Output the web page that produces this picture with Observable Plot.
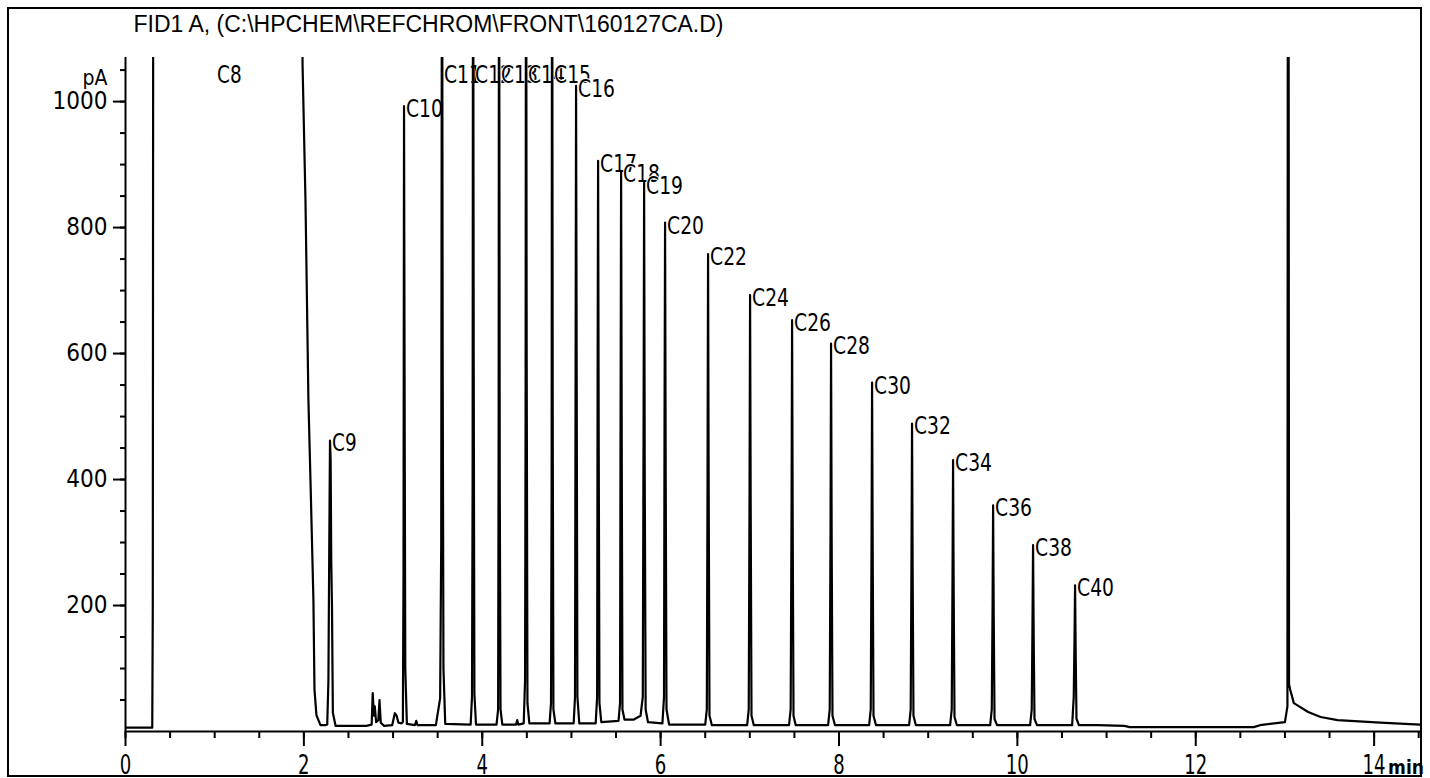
<!DOCTYPE html>
<html><head><meta charset="utf-8">
<script src="https://cdn.jsdelivr.net/npm/d3@7"></script>
<script src="https://cdn.jsdelivr.net/npm/@observablehq/plot@0.6"></script>
<style>
html,body{margin:0;padding:0;background:#fff;}
#wrap{position:relative;width:1430px;height:778px;overflow:hidden;}
#border{position:absolute;left:7px;top:7px;width:1415px;height:770px;box-sizing:border-box;border:2px solid #000;pointer-events:none;}
</style></head><body><div id="wrap"><div id="border"></div></div>
<script>
// ---- data ----
const title = "FID1 A, (C:\\HPCHEM\\REFCHROM\\FRONT\\160127CA.D)";
const yUnit = "pA";
const xUnit = "min";
const xTicks = [0, 2, 4, 6, 8, 10, 12, 14];
const yTicks = [200, 400, 600, 800, 1000];
const unitTick = 1050;
const labelTop = 1047;

const peakNames = ["C8","C9","C10","C11","C12","C13","C14","C15","C16","C17","C18","C19","C20","C22","C24","C26","C28","C30","C32","C34","C36","C38","C40"];
const peakTimes = [1.004, 2.293, 3.123, 3.549, 3.897, 4.188, 4.491, 4.783, 5.052, 5.299, 5.557, 5.815, 6.050, 6.532, 7.003, 7.474, 7.911, 8.371, 8.819, 9.279, 9.728, 10.176, 10.647];
const peakHeights = [1500, 462, 993, 1500, 1500, 1500, 1500, 1500, 1025, 906, 890, 871, 808, 758, 693, 653, 616, 554, 489, 431, 359, 296, 232];

// detector trace [time (min), signal (pA)]
const trace = [
 [0.000,6],[0.150,6],[0.300,6],[0.306,200],[0.312,1500],
 [1.975,1500],[1.985,1060],[2.018,843],[2.051,526],[2.074,399],[2.107,209],[2.119,66],[2.141,26],[2.186,10],[2.240,10],
 [2.262,11],[2.275,80],[2.285,300],[2.293,462],[2.300,430],[2.307,270],[2.315,200],[2.325,30],[2.355,9],
 [2.700,9],[2.760,11],[2.772,61],[2.785,25],[2.795,40],[2.810,15],[2.835,18],[2.848,50],[2.862,14],[2.900,9],
 [2.990,10],[3.020,29],[3.040,25],[3.060,14],[3.095,13],
 [3.110,15],[3.117,250],[3.123,993],[3.130,500],[3.137,100],[3.155,12],
 [3.245,10],[3.260,17],[3.275,10],
 [3.480,10],[3.528,53],[3.540,300],[3.549,1500],[3.556,600],[3.565,100],[3.585,12],
 [3.870,11],[3.885,55],[3.892,400],[3.897,1500],[3.904,600],[3.912,60],[3.930,11],
 [4.160,11],[4.178,35],[4.184,500],[4.188,1500],[4.196,400],[4.205,35],[4.225,11],
 [4.380,11],[4.392,18],[4.405,11],
 [4.465,13],[4.480,81],[4.486,500],[4.491,1500],[4.498,600],[4.507,45],[4.528,13],
 [4.755,13],[4.771,45],[4.778,400],[4.783,1500],[4.790,500],[4.798,35],[4.820,13],
 [5.025,13],[5.040,55],[5.047,600],[5.052,1025],[5.059,550],[5.067,55],[5.088,13],
 [5.272,13],[5.288,55],[5.294,600],[5.299,906],[5.306,450],[5.314,45],[5.335,15],
 [5.528,17],[5.545,45],[5.551,500],[5.557,890],[5.564,450],[5.572,35],[5.595,19],
 [5.700,19],[5.775,25],[5.800,55],[5.809,500],[5.815,871],[5.822,400],[5.832,35],[5.858,15],
 [6.020,13],[6.038,55],[6.044,500],[6.050,808],[6.057,400],[6.066,35],[6.095,11],
 [6.500,11],[6.518,35],[6.526,400],[6.532,758],[6.539,380],[6.548,25],[6.575,10],
 [6.970,10],[6.988,35],[6.997,380],[7.003,693],[7.010,350],[7.019,25],[7.045,10],
 [7.440,10],[7.458,35],[7.468,350],[7.474,653],[7.481,320],[7.490,25],[7.515,10],
 [7.878,10],[7.896,35],[7.905,320],[7.911,616],[7.918,300],[7.927,25],[7.955,10],
 [8.338,10],[8.356,35],[8.365,300],[8.371,554],[8.378,280],[8.387,25],[8.415,10],
 [8.786,10],[8.804,35],[8.813,280],[8.819,489],[8.826,250],[8.835,25],[8.862,10],
 [9.246,10],[9.264,35],[9.273,250],[9.279,431],[9.286,220],[9.295,23],[9.322,10],
 [9.695,10],[9.713,35],[9.722,200],[9.728,359],[9.735,180],[9.744,20],[9.772,10],
 [10.143,10],[10.161,35],[10.170,180],[10.176,296],[10.183,150],[10.192,20],[10.220,10],
 [10.614,10],[10.632,55],[10.641,150],[10.647,232],[10.654,120],[10.663,20],[10.690,10],
 [10.900,10],[11.200,9],[11.260,7],[12.000,7],[12.650,7],[12.720,10],[12.950,14],[13.000,15],[13.028,40],
 [13.033,1500],[13.040,1500],[13.046,75],[13.060,66],[13.100,45],[13.260,31],[13.400,23],[13.590,18],[14.070,14],[14.520,11]
];

const peaks = peakNames.map((name, i) => ({name, t: peakTimes[i], h: peakHeights[i]}));
const xMinor = d3.range(0, 14.51, 0.5);
const yMinor = d3.range(50, 1051, 50);

const NARROW = "'Liberation Sans Narrow','Arial Narrow','DejaVu Sans Condensed',sans-serif";

const chart = Plot.plot({
  width: 1430, height: 778,
  marginLeft: 125, marginRight: 10, marginTop: 57, marginBottom: 47,
  style: {background: "transparent", color: "black", fontFamily: NARROW},
  x: {domain: [0, 14.52]},
  y: {domain: [0, 1070]},
  marks: [
    Plot.axisY({ticks: yMinor, tickSize: 5, strokeWidth: 2, tickFormat: () => "", label: null}),
    Plot.axisY({ticks: yTicks, tickSize: 12, tickPadding: 6, strokeWidth: 2, fontSize: 24, tickFormat: d => String(d), label: null}),
    Plot.axisX({ticks: xMinor, tickSize: 7, strokeWidth: 2, tickFormat: () => "", label: null}),
    Plot.axisX({ticks: xTicks, tickSize: 15, strokeWidth: 2, tickFormat: () => "", label: null}),
    Plot.text(xTicks, {x: d => d, frameAnchor: "bottom", text: d => String(d), textAnchor: "middle",
      lineAnchor: "bottom", dy: 42, fontSize: 27}),
    Plot.ruleX([0], {strokeWidth: 2}),
    Plot.ruleY([0], {strokeWidth: 2}),
    Plot.text(peaks, {x: "t", y: d => Math.min(d.h, labelTop), text: "name", textAnchor: "start",
      dx: 2, dy: 3, fontSize: 25, fill: "black", stroke: "white", strokeWidth: 2}),
    Plot.line(trace, {x: d => d[0], y: d => d[1], stroke: "black", strokeWidth: 2.2, clip: true}),
    Plot.text([yUnit], {y: () => unitTick, frameAnchor: "left", text: d => d, textAnchor: "end",
      dx: -18, dy: 8, fontSize: 21}),
    Plot.text([xUnit], {x: () => xTicks[xTicks.length - 1], frameAnchor: "bottom", text: d => d,
      textAnchor: "start", lineAnchor: "bottom", dx: 14, dy: 42, fontSize: 19, fontWeight: "bold"}),
    Plot.text([title], {frameAnchor: "top-left", text: d => d, textAnchor: "start", lineAnchor: "bottom",
      dx: 8, dy: -26, fontSize: 23, fontFamily: "'Liberation Sans',Arial,sans-serif"})
  ]
});
document.getElementById("wrap").prepend(chart);
const svg = d3.select(chart);
svg.selectAll("text").each(function() {
  const s = this.textContent;
  const el = d3.select(this);
  if (s === title) el.attr("textLength", 590).attr("lengthAdjust", "spacingAndGlyphs");
  else if (peakNames.includes(s)) el.attr("textLength", 12.3 * s.length).attr("lengthAdjust", "spacingAndGlyphs");
  else if (xTicks.map(String).includes(s)) el.attr("textLength", 11.5 * s.length).attr("lengthAdjust", "spacingAndGlyphs");
});
</script>
</body></html>
